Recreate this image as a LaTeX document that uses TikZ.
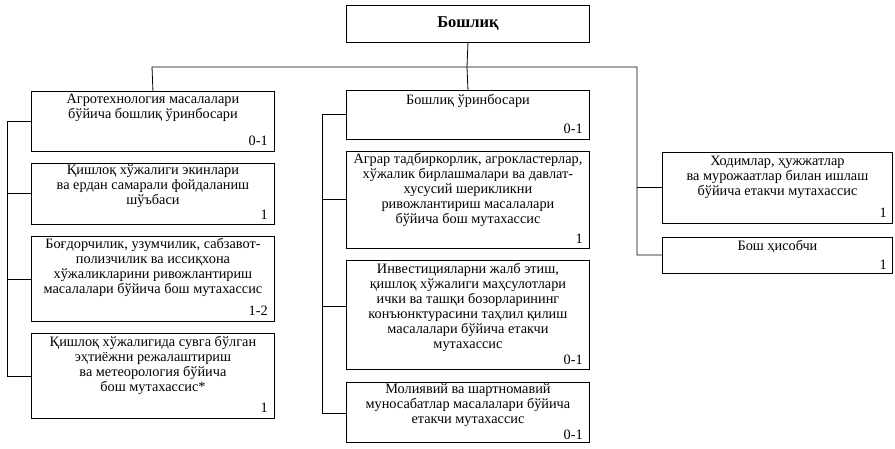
\documentclass[tikz,border=0pt]{standalone}
\usepackage{fontspec}
\setmainfont{Liberation Serif}
\begin{document}
\begin{tikzpicture}[x=1pt,y=-1pt,
  box/.style={draw, line width=0.9pt, inner sep=0pt, anchor=north west},
  txt/.style={anchor=north, align=center, inner sep=0pt, font=\fontsize{14.3}{15}\selectfont},
  num/.style={anchor=south east, inner sep=0pt, font=\fontsize{14.3}{15}\selectfont},
  link/.style={line width=0.8pt}]
\useasboundingbox (0,0) rectangle (895,448);
% top
\node[box, minimum width=243pt, minimum height=37pt] (top) at (346,5) {};
\node[font=\fontsize{16.5}{18}\selectfont\bfseries, inner sep=0pt] (toptxt) at (top.center) {Бошлиқ};
% left column
\node[box, minimum width=243pt, minimum height=60pt] (b1) at (31,91) {};
\node[txt] (b1t) at ([yshift=-3pt]b1.north) {Агротехнология масалалари\\бўйича бошлиқ ўринбосари};
\node[num] (b1n) at ([xshift=-7pt,yshift=6pt]b1.south east) {0-1};

\node[box, minimum width=243pt, minimum height=61pt] (b2) at (31,163) {};
\node[txt] (b2t) at ([yshift=-2pt]b2.north) {Қишлоқ хўжалиги экинлари\\ва ердан самарали фойдаланиш\\шўъбаси};
\node[num] (b2n) at ([xshift=-7pt,yshift=5pt]b2.south east) {1};

\node[box, minimum width=243pt, minimum height=85pt] (b3) at (31,236) {};
\node[txt] (b3t) at ([yshift=-2pt]b3.north) {Боғдорчилик, узумчилик, сабзавот-\\полизчилик ва иссиқхона\\хўжаликларини ривожлантириш\\масалалари бўйича бош мутахассис};
\node[num] (b3n) at ([xshift=-7pt,yshift=6pt]b3.south east) {1-2};

\node[box, minimum width=243pt, minimum height=85pt] (b4) at (31,333) {};
\node[txt] (b4t) at ([yshift=-3pt]b4.north) {Қишлоқ хўжалигида сувга бўлган\\эҳтиёжни режалаштириш\\ва метеорология бўйича\\бош мутахассис*};
\node[num] (b4n) at ([xshift=-7pt,yshift=6pt]b4.south east) {1};

% middle column
\node[box, minimum width=243pt, minimum height=49pt] (m1) at (346,90) {};
\node[txt] (m1t) at ([yshift=-4pt]m1.north) {Бошлиқ ўринбосари};
\node[num] (m1n) at ([xshift=-7pt,yshift=6pt]m1.south east) {0-1};

\node[box, minimum width=243pt, minimum height=97pt] (m2) at (346,151) {};
\node[txt] (m2t) at ([yshift=-2pt]m2.north) {Аграр тадбиркорлик, агрокластерлар,\\хўжалик бирлашмалари ва давлат-\\хусусий шерикликни\\ривожлантириш масалалари\\бўйича бош мутахассис};
\node[num] (m2n) at ([xshift=-7pt,yshift=5pt]m2.south east) {1};

\node[box, minimum width=243pt, minimum height=109pt] (m3) at (346,260) {};
\node[txt] (m3t) at ([yshift=-3pt]m3.north) {Инвестицияларни жалб этиш,\\қишлоқ хўжалиги маҳсулотлари\\ички ва ташқи бозорларининг\\конъюнктурасини таҳлил қилиш\\масалалари бўйича етакчи\\мутахассис};
\node[num] (m3n) at ([xshift=-7pt,yshift=5pt]m3.south east) {0-1};

\node[box, minimum width=243pt, minimum height=60pt] (m4) at (346,382) {};
\node[txt] (m4t) at ([yshift=-2pt]m4.north) {Молиявий ва шартномавий\\муносабатлар масалалари бўйича\\етакчи мутахассис};
\node[num] (m4n) at ([xshift=-7pt,yshift=3pt]m4.south east) {0-1};

% right column
\node[box, minimum width=230pt, minimum height=71pt] (r1) at (662,152) {};
\node[txt] (r1t) at ([yshift=-4pt]r1.north) {Ходимлар, ҳужжатлар\\ва мурожаатлар билан ишлаш\\бўйича етакчи мутахассис};
\node[num] (r1n) at ([xshift=-6pt,yshift=6pt]r1.south east) {1};

\node[box, minimum width=230pt, minimum height=36pt] (r2) at (662,237) {};
\node[txt] (r2t) at ([yshift=-3pt]r2.north) {Бош ҳисобчи};
\node[num] (r2n) at ([xshift=-6pt,yshift=4pt]r2.south east) {1};

% connectors
\coordinate (hl) at (152,67);
\coordinate (hm) at (467,67);
\coordinate (hr) at (637,67);
\draw[link] (top.south) -- (hm);
\draw[link] (b1.north) -- (hl) -- (hr) -- (637,255) -- (r2.west |- 0,255);
\draw[link] (637,187) -- (r1.west |- 0,187);
\draw[link] (hm) -- (m1.north);
% left spine
\draw[link] (b1.west |- 0,121) -- (7,121) -- (7,376) -- (b4.west |- 0,376);
\draw[link] (7,193) -- (b2.west |- 0,193);
\draw[link] (7,279) -- (b3.west |- 0,279);
% middle spine
\draw[link] (m1.west |- 0,114) -- (322,114) -- (322,413) -- (m4.west |- 0,413);
\draw[link] (322,199) -- (m2.west |- 0,199);
\draw[link] (322,306) -- (m3.west |- 0,306);
\end{tikzpicture}
\end{document}
